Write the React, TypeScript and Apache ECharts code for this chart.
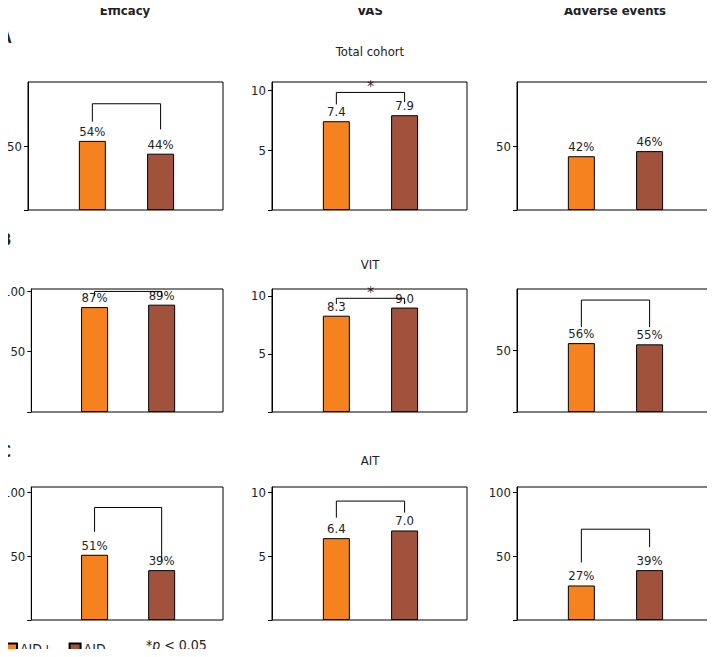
import { useEffect, useRef } from "react";
import * as echarts from "echarts";

const COLUMNS = ["Efficacy", "VAS", "Adverse events"];
const ROWS = ["A", "B", "C"];
const SUBTITLES = ["Total cohort", "VIT", "AIT"];

// values per panel, row by row: [AID+, AID−]
const AID_POS = [54, 7.4, 42, 87, 8.3, 56, 51, 6.4, 27];
const AID_NEG = [44, 7.9, 46, 89, 9.0, 55, 39, 7.0, 39];
const IS_PERCENT = [true, false, true, true, false, true, true, false, true];
const AXIS_MAX = [100, 10.67, 100, 102, 10.6, 100, 104, 10.4, 104];
const TICK_STEP = [50, 5, 50, 50, 5, 50, 50, 5, 50];
// significance brackets: [left leg bottom, top, right leg bottom] or null
const BRACKETS: ([number, number, number] | null)[] = [
  [69, 83, 63], [8.8, 9.8, 9.0], null,
  [96, 100, 96], [9.3, 9.8, 9.3], [69, 91, 69],
  [69, 88, 47], [8.0, 9.3, 8.4], [45, 71, 57],
];
const STARS = [false, true, false, false, true, false, false, false, false];

const X_POS = 0.33;
const X_NEG = 0.68;
const FONT = "'Liberation Sans Narrow', 'DejaVu Sans Condensed', sans-serif";

export default function App() {
  const ref = useRef<HTMLDivElement>(null);

  useEffect(() => {
    if (!ref.current) return;
    const chart = echarts.init(ref.current, undefined, { renderer: "svg" });

    const colLeft = [28, 272, 517];
    const rowTop = [82, 289, 487];
    const rowBottom = [210, 412, 620];

    const grid: any[] = [];
    const xAxis: any[] = [];
    const yAxis: any[] = [];
    const series: any[] = [];

    for (let i = 0; i < 9; i++) {
      const r = Math.floor(i / 3);
      const c = i % 3;
      grid.push({
        left: colLeft[c],
        width: 195,
        top: rowTop[r],
        height: rowBottom[r] - rowTop[r],
        show: true,
        borderColor: "#000",
        borderWidth: 1,
      });
      xAxis.push({
        type: "value", gridIndex: i, min: 0, max: 1, show: false,
      });
      const step = TICK_STEP[i];
      yAxis.push({
        type: "value", gridIndex: i, min: 0, max: AXIS_MAX[i], interval: step,
        axisLine: { show: true, lineStyle: { color: "#000" } },
        axisTick: { show: true, length: 4, lineStyle: { color: "#000" } },
        splitLine: { show: false },
        axisLabel: {
          showMaxLabel: false,
          color: "#222", fontSize: 13, fontFamily: FONT, margin: 6,
          formatter: (v: number) => (v === 0 || v % step !== 0 ? "" : String(v)),
        },
      });
      const fmt = (v: number) => (IS_PERCENT[i] ? `${v}%` : v.toFixed(1));
      const label = {
        show: true, position: "top", distance: 3, color: "#222",
        fontSize: 13, fontFamily: FONT,
        formatter: (p: any) => fmt(p.value[1]),
      };
      series.push({
        name: "AID+", type: "bar", xAxisIndex: i, yAxisIndex: i,
        barWidth: 27, data: [[X_POS, AID_POS[i]]], label,
        itemStyle: { color: "#f5821f", borderColor: "#000", borderWidth: 1 },
      });
      series.push({
        name: "AID–", type: "bar", xAxisIndex: i, yAxisIndex: i,
        barWidth: 27, barGap: "-100%", data: [[X_NEG, AID_NEG[i]]], label,
        itemStyle: { color: "#a0523d", borderColor: "#000", borderWidth: 1 },
      });
      const b = BRACKETS[i];
      if (b) {
        series.push({
          type: "line", xAxisIndex: i, yAxisIndex: i, symbol: "none",
          lineStyle: { color: "#000", width: 1 },
          data: [[X_POS, b[0]], [X_POS, b[1]], [X_NEG, b[1]], [X_NEG, b[2]]],
          silent: true,
        });
        if (STARS[i]) {
          series.push({
            type: "scatter", xAxisIndex: i, yAxisIndex: i, symbolSize: 0,
            data: [[(X_POS + X_NEG) / 2, b[1]]],
            label: {
              show: true, position: "top", distance: -2, formatter: "*",
              color: "#000", fontSize: 16, fontFamily: FONT,
            },
          });
        }
      }
    }

    const graphic: any[] = [];
    const colCenter = [125, 370, 615];
    COLUMNS.forEach((t, c) =>
      graphic.push({
        type: "text", x: colCenter[c], y: 4,
        style: { text: t, fontSize: 13, fontWeight: "bold", fontFamily: FONT, fill: "#222", align: "center" },
      })
    );
    const letterY = [30, 232, 444];
    const subY = [45, 258, 454];
    ROWS.forEach((t, r) => {
      graphic.push({
        type: "text", x: 1, y: letterY[r],
        style: { text: t, fontSize: 15, fontWeight: "bold", fontFamily: FONT, fill: "#222" },
      });
      graphic.push({
        type: "text", x: 370, y: subY[r],
        style: { text: SUBTITLES[r], fontSize: 13, fontFamily: FONT, fill: "#222", align: "center" },
      });
    });
    graphic.push({
      type: "text", x: 146, y: 638,
      style: {
        rich: {
          i: { fontStyle: "italic", fontSize: 14, fontFamily: FONT, fill: "#222" },
          n: { fontSize: 14, fontFamily: FONT, fill: "#222" },
        },
        text: "{n|*}{i|p}{n| < 0.05}",
      },
    });

    chart.setOption({
      animation: false,
      grid, xAxis, yAxis, series, graphic,
      legend: {
        left: 0, top: 637, itemWidth: 11, itemHeight: 11, itemGap: 16,
        icon: "rect",
        data: ["AID+", "AID–"],
        textStyle: { fontSize: 14, fontFamily: FONT, color: "#222", padding: [0, 0, 0, -2] },
        selectedMode: false,
      },
    });

    return () => chart.dispose();
  }, []);

  return <div ref={ref} style={{ width: 715, height: 657, margin: -8 }} />;
}
